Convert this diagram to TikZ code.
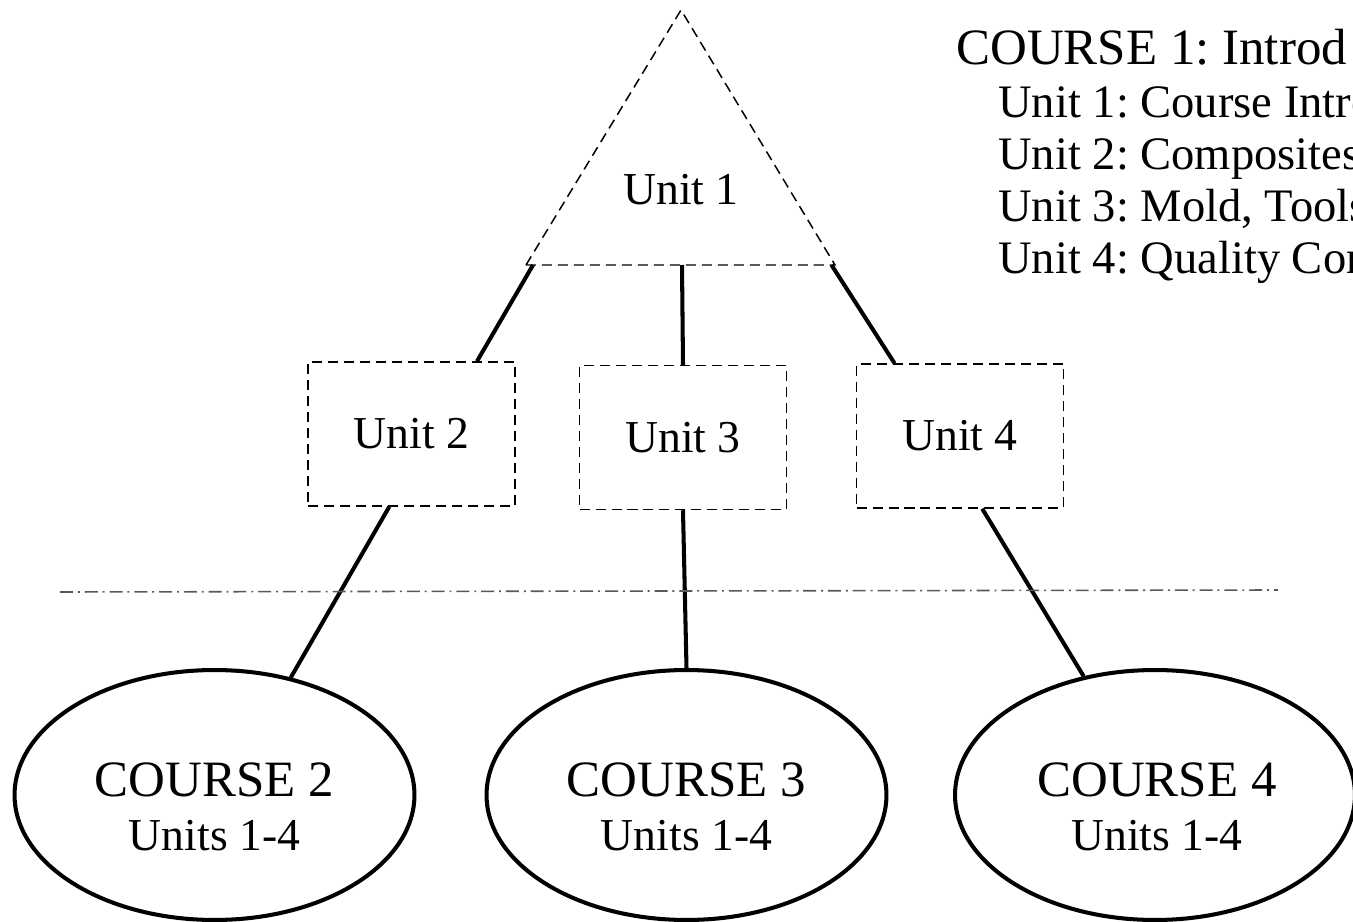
\documentclass[tikz,border=0pt]{standalone}
\usepackage{fontspec}
\setmainfont{Liberation Serif}
\usetikzlibrary{shapes.geometric}
\frenchspacing

\tikzset{
  thinedge/.style={line width=0.85pt, dash pattern=on 5.7pt off 3.4pt},
  unitbox/.style={draw, thinedge, minimum width=4.14cm, minimum height=2.88cm, inner sep=0pt,
    font=\fontsize{26}{30}\selectfont},
  coursebubble/.style={draw, ellipse, line width=2.3pt, minimum width=8cm, minimum height=5cm, inner sep=0pt},
  coursetext/.style={align=center, inner sep=0pt, font=\fontsize{26}{31}\selectfont},
  link/.style={line width=2.3pt},
  divider/.style={line width=0.9pt, black!65, dash pattern=on 7.4pt off 2.8pt on 1.1pt off 2.8pt},
  listline/.style={anchor=base west, inner sep=0pt, font=\fontsize{26.5}{30}\selectfont}
}

\begin{document}
\begin{tikzpicture}[x=0.02cm, y=-0.02cm]
  \useasboundingbox (0,0) rectangle (1353,922);
  \clip (0,0) rectangle (1353,922);

  % course 1 (triangle)
  \coordinate (apex) at (681,10);
  \coordinate (bl) at (526,265);
  \coordinate (br) at (835,265);
  \coordinate (bm) at (682,265);
  \draw[thinedge] (bl) -- (apex) -- (br) -- cycle;
  \node[font=\fontsize{26}{30}\selectfont] (u1) at (681,190) {Unit 1};

  % units
  \node[unitbox] (u2) at (411.5,434) {Unit 2};
  \node[unitbox] (u3) at (683,437.5) {Unit 3};
  \node[unitbox] (u4) at (960,436) {Unit 4};

  % other courses
  \node[coursebubble] (c2) at (214.5,795) {};
  \node[coursebubble] (c3) at (686.5,795) {};
  \node[coursebubble] (c4) at (1155,795) {};
  \node[coursetext] (c2t) at (214.5,807) {{\fontsize{29}{31}\selectfont COURSE 2}\\ Units 1-4};
  \node[coursetext] (c3t) at (686.5,807) {{\fontsize{29}{31}\selectfont COURSE 3}\\ Units 1-4};
  \node[coursetext] (c4t) at (1157,807) {{\fontsize{29}{31}\selectfont COURSE 4}\\ Units 1-4};

  % links
  \draw[link] ([xshift=4]bl) -- (u2.48);
  \draw[link] (bm) -- (u3.north);
  \draw[link] ([xshift=-2]br) -- (u4.132);
  \draw[link] (u2.253) -- (c2.57);
  \draw[link] (u3.south) -- (c3.north);
  \draw[link] (u4.287) -- (c4.121);

  % divider
  \coordinate (dl) at (60,592);
  \coordinate (dr) at (1278,590);
  \draw[divider] (dl) -- (dr);

  % course 1 contents
  \node[listline, font=\fontsize{29}{32}\selectfont] (t0) at (956,65) {COURSE 1: Introd};
  \node[listline] (t1) at (998,118) {Unit 1: Course Intro};
  \node[listline] (t2) at (998,170) {Unit 2: Composites};
  \node[listline] (t3) at (998,222) {Unit 3: Mold, Tools};
  \node[listline] (t4) at (998,274) {Unit 4: Quality Con};
\end{tikzpicture}
\end{document}
